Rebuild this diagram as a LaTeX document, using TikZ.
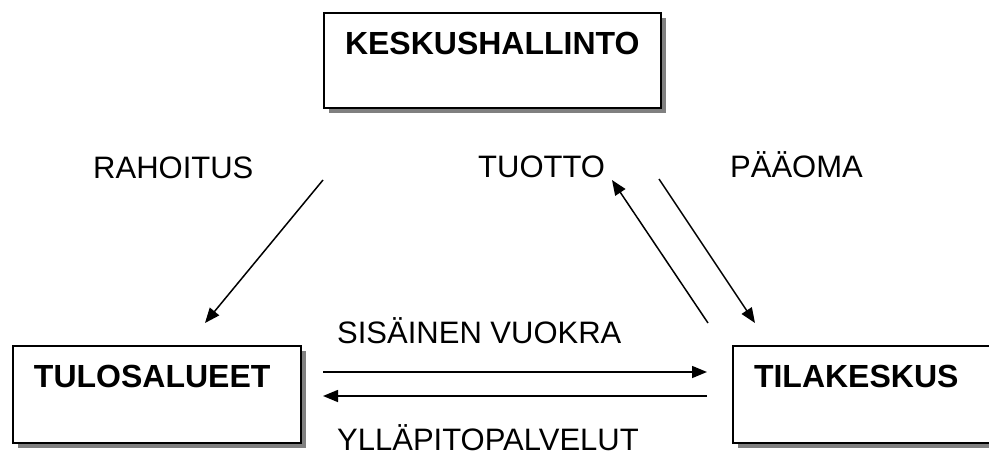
\documentclass[tikz,border=0pt]{standalone}
\usepackage{fontspec}
\setmainfont{Liberation Sans}
\usetikzlibrary{arrows.meta,shadows}
\begin{document}
\begin{tikzpicture}[x=1pt,y=-1pt,
  font=\fontsize{31}{36}\selectfont,
  box/.style={draw=black, line width=2pt, fill=white, rectangle, anchor=north west,
    inner xsep=21pt, inner ysep=0pt, align=left, font=\fontsize{32}{36}\selectfont\bfseries,
    drop shadow={opacity=1, fill=black!50, shadow xshift=5pt, shadow yshift=-5pt}},
  lbl/.style={anchor=base west, inner sep=0pt},
  arr/.style={line width=1.5pt, -{Triangle[length=15pt,width=12pt]}}
]
\clip (0,0) rectangle (989,455);
\fill[white] (0,0) rectangle (989,455);
% boxes
\node[box, text width=295pt, text height=41pt, text depth=54pt] (ks) at (323,12) {KESKUSHALLINTO};
\node[box, text width=246pt, text height=41pt, text depth=56pt] (tu) at (12,345) {TULOSALUEET};
\node[box, text width=246pt, text height=41pt, text depth=56pt] (ti) at (732,345) {TILAKESKUS};
% labels
\node[lbl] (rah) at (93,178) {RAHOITUS};
\node[lbl] (tuo) at (478,177) {TUOTTO};
\node[lbl] (paa) at (730,177) {PÄÄOMA};
\node[lbl] (sis) at (337,343) {SISÄINEN VUOKRA};
\node[lbl] (yll) at (337,450) {YLLÄPITOPALVELUT};
% connector ends
\coordinate (a1s) at (323,180); \coordinate (a1e) at (205,323);
\coordinate (a2s) at (708,323); \coordinate (a2e) at (612,180);
\coordinate (a3s) at (659,179); \coordinate (a3e) at (755,323);
\coordinate (a4s) at (323,372); \coordinate (a4e) at (707,372);
\coordinate (a5s) at (707,396); \coordinate (a5e) at (323,396);
\draw[arr] (a1s) -- (a1e);
\draw[arr] (a2s) -- (a2e);
\draw[arr] (a3s) -- (a3e);
\draw[arr] (a4s) -- (a4e);
\draw[arr] (a5s) -- (a5e);
\end{tikzpicture}
\end{document}
